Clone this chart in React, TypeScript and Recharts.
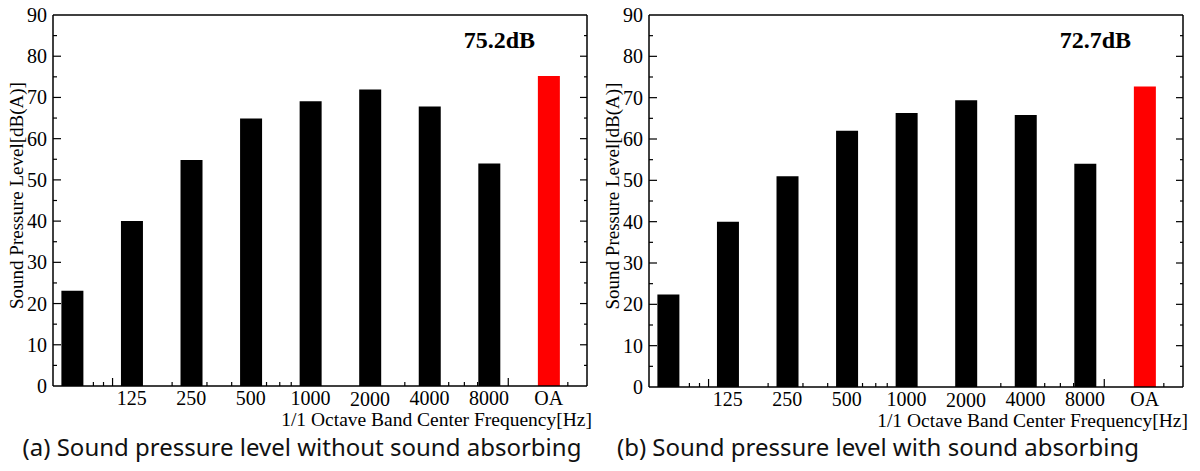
import React from 'react'
import { BarChart, Bar, XAxis, YAxis, Cell } from 'recharts'

// octave bands (OA drawn one octave above 8k)
const bandFreqs = [62.5, 125, 250, 500, 1000, 2000, 4000, 8000, 16000]
const bandLabels = ['', '125', '250', '500', '1000', '2000', '4000', '8000', 'OA']

const levelsWithout = [23.1, 40, 54.8, 64.9, 69.1, 71.9, 67.8, 54, 75.2]
const levelsWith = [22.4, 40, 51, 62, 66.3, 69.4, 65.8, 54, 72.7]

const yTicks = [0, 5, 10, 15, 20, 25, 30, 35, 40, 45, 50, 55, 60, 65, 70, 75, 80, 85, 90]

const xMajorTicks = [100, 1000, 10000]
const xMinorTicks = [60, 70, 80, 90, 200, 300, 400, 500, 600, 700, 800, 900,
    2000, 3000, 4000, 5000, 6000, 7000, 8000, 9000, 20000]
const xFrameTicks = [...xMinorTicks, ...xMajorTicks].sort((a, b) => a - b)
const xBottomTicks = Array.from(new Set([...xFrameTicks, ...bandFreqs])).sort((a, b) => a - b)

const serif = '"Liberation Serif", "Times New Roman", serif'

const W = 600
const H = 440
const PLOT_TOP = 15
const PLOT_LEFT = 53
const PLOT_RIGHT = 587

const tickLen = (v: number, isX: boolean) => {
    if (isX) return xMajorTicks.includes(v) ? 8 : 4
    return v % 10 === 0 ? 8 : 4
}

function Panel({ levels, total, left, plotBottom }: {
    levels: number[]; total: string; left: number; plotBottom: number
}) {
    const data = bandFreqs.map((f, i) => ({ freq: f, level: levels[i] }))

    const BottomTick = (props: any) => {
        const { x, y, payload } = props
        const v = payload.value
        const idx = bandFreqs.indexOf(v)
        return (
            <g>
                {xFrameTicks.includes(v) && (
                    <line x1={x} x2={x} y1={plotBottom} y2={plotBottom - tickLen(v, true)} stroke="#000" strokeWidth={1.2} />
                )}
                {idx >= 0 && (
                    <text x={x} y={y + 13 + (bandLabels[idx] === '2000' ? 1 : 0)} textAnchor="middle"
                        fontFamily={serif} fontSize={20} fill="#000">{bandLabels[idx]}</text>
                )}
            </g>
        )
    }

    const TopTick = (props: any) => {
        const { x, payload } = props
        const v = payload.value
        return <line x1={x} x2={x} y1={PLOT_TOP} y2={PLOT_TOP + tickLen(v, true) + 1} stroke="#000" strokeWidth={1.2} />
    }

    const LeftTick = (props: any) => {
        const { x, y, payload } = props
        const v = payload.value
        return (
            <g>
                {v > 0 && v < 90 && (
                    <line x1={PLOT_LEFT} x2={PLOT_LEFT + tickLen(v, false)} y1={y} y2={y} stroke="#000" strokeWidth={1.2} />
                )}
                {v % 10 === 0 && (
                    <text x={x} y={y + 7} textAnchor="end" fontFamily={serif} fontSize={20} fill="#000">{v}</text>
                )}
            </g>
        )
    }

    const RightTick = (props: any) => {
        const { y, payload } = props
        const v = payload.value
        if (v <= 0 || v >= 90) return <g />
        return <line x1={PLOT_RIGHT} x2={PLOT_RIGHT - tickLen(v, false) + 1} y1={y} y2={y} stroke="#000" strokeWidth={1.2} />
    }

    const xAxisHeight = H - plotBottom

    return (
        <div style={{ position: 'absolute', left, top: 0, width: W, height: H }}>
            <BarChart width={W} height={H} data={data}
                margin={{ top: PLOT_TOP, right: W - PLOT_RIGHT, left: 0, bottom: 0 }}>
                <XAxis xAxisId="main" type="number" dataKey="freq" scale="log"
                    domain={[50, 25000]} allowDataOverflow ticks={xBottomTicks} interval={0}
                    tick={<BottomTick />} tickLine={false} tickSize={0} tickMargin={6}
                    height={xAxisHeight} axisLine={{ stroke: '#000', strokeWidth: 1.5 }} />
                <XAxis xAxisId="top" type="number" scale="log" domain={[50, 25000]} allowDataOverflow
                    orientation="top" mirror height={1} ticks={xFrameTicks} interval={0}
                    tick={<TopTick />} tickLine={false} tickSize={0}
                    axisLine={{ stroke: '#000', strokeWidth: 1.5 }} />

                <YAxis yAxisId="main" type="number" domain={[0, 90]} allowDataOverflow ticks={yTicks}
                    interval={0} width={PLOT_LEFT} tickLine={false} tickSize={0} tickMargin={6}
                    tick={<LeftTick />} axisLine={{ stroke: '#000', strokeWidth: 1.5 }} />
                <YAxis yAxisId="right" type="number" orientation="right" domain={[0, 90]} allowDataOverflow
                    ticks={yTicks} interval={0} width={1} mirror tick={<RightTick />} tickLine={false}
                    tickSize={0} axisLine={{ stroke: '#000', strokeWidth: 1.5 }} />

                <Bar xAxisId="main" yAxisId="main" dataKey="level" barSize={22} isAnimationActive={false}>
                    {data.map((d, i) => (
                        <Cell key={i} fill={i === data.length - 1 ? '#ff0000' : '#000000'} />
                    ))}
                </Bar>

                <text x={535} y={48} textAnchor="end" fontFamily={serif} fontSize={24}
                    fontWeight="bold" fill="#000">{total}</text>
                <text x={PLOT_RIGHT + 5} y={plotBottom + 40} textAnchor="end" fontFamily={serif}
                    fontSize={19.5} fill="#000">1/1 Octave Band Center Frequency[Hz]</text>
                <text x={0} y={0} transform={`translate(${PLOT_LEFT - 30}, ${(PLOT_TOP + plotBottom) / 2 - 5}) rotate(-90)`}
                    textAnchor="middle" fontFamily={serif} fontSize={19} fill="#000">
                    Sound Pressure Level[dB(A)]
                </text>
            </BarChart>
        </div>
    )
}

const captionStyle: React.CSSProperties = {
    position: 'absolute',
    top: 432,
    width: 600,
    textAlign: 'center',
    fontFamily: '"Noto Sans", sans-serif',
    fontSize: 24,
    lineHeight: '30px',
    color: '#111',
    whiteSpace: 'nowrap'
}

export default function App() {
    return (
        <div style={{ position: 'absolute', left: 0, top: 0, width: 1200, height: 471, background: '#fff' }}>
            <Panel levels={levelsWithout} total="75.2dB" left={0} plotBottom={386} />
            <Panel levels={levelsWith} total="72.7dB" left={596} plotBottom={387} />
            <div style={{ ...captionStyle, left: 2 }}>(a) Sound pressure level without sound absorbing</div>
            <div style={{ ...captionStyle, left: 578 }}>(b) Sound pressure level with sound absorbing</div>
        </div>
    )
}
